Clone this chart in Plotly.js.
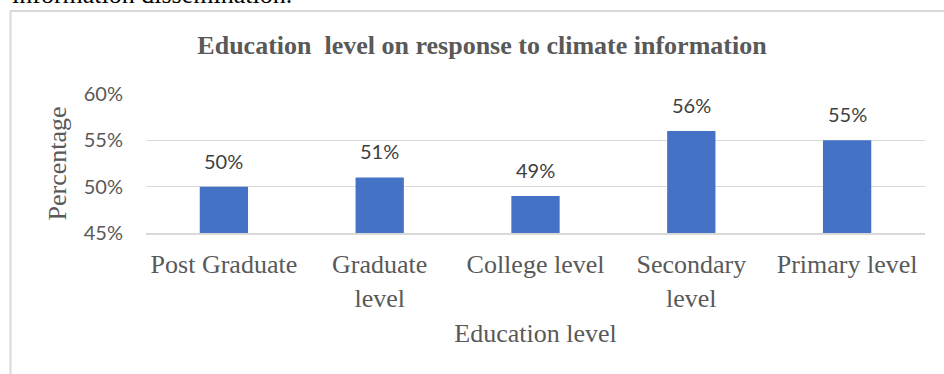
<!DOCTYPE html>
<html>
<head>
<meta charset="utf-8">
<script src="https://cdn.plot.ly/plotly-3.0.1.min.js"></script>
<style>
  html, body { margin: 0; padding: 0; background: #ffffff; }
  #chart { width: 944px; height: 374px; }
</style>
</head>
<body>
<div id="chart"></div>
<script>
// ---- data ----
const categories = ["Post Graduate", "Graduate<br>level", "College level", "Secondary<br>level", "Primary level"];
const percentages = [0.50, 0.51, 0.49, 0.56, 0.55];
const yTickValues = [0.45, 0.50, 0.55, 0.60];

const chartTitle = "Education&nbsp; level on response to climate information";
const xTitle = "Education level";
const yTitle = "Percentage";
const captionAbove = "information dissemination.";

// ---- geometry helpers (pixel -> paper) ----
const W = 944, H = 374;
const M = { l: 146, r: 19, t: 94, b: 141 };
const pw = W - M.l - M.r, ph = H - M.t - M.b;
const px = x => (x - M.l) / pw;
const py = y => (H - M.b - y) / ph;

const serif = "Liberation Serif, Times New Roman, serif";
const sans = "Lato, Calibri, Carlito, sans-serif";

const trace = {
  type: "bar",
  x: categories,
  y: percentages,
  marker: { color: "#4472C4" },
  hoverinfo: "skip",
  cliponaxis: false
};

const dataLabels = categories.map((c, i) => ({
  x: c, y: percentages[i], xref: "x", yref: "y",
  text: (percentages[i] * 100).toFixed(0) + "%",
  showarrow: false, yanchor: "bottom", yshift: 12,
  font: { family: sans, size: 20, color: "#404040" }
}));

const layout = {
  width: W, height: H,
  margin: M,
  paper_bgcolor: "#ffffff",
  plot_bgcolor: "#ffffff",
  showlegend: false,
  bargap: 0.69,
  title: {
    text: "<b>" + chartTitle + "</b>",
    font: { family: serif, size: 26, color: "#595959" },
    x: 482 / W, xanchor: "center",
    y: 1 - 45 / H, yanchor: "middle"
  },
  xaxis: {
    type: "category",
    showgrid: false,
    showline: true, linecolor: "#d9d9d9", linewidth: 1.5,
    ticks: "",
    ticklabelstandoff: 7,
    tickfont: { family: serif, size: 26, color: "#595959" },
    title: { text: xTitle, font: { family: serif, size: 26, color: "#595959" }, standoff: 12 }
  },
  yaxis: {
    range: [0.45, 0.60],
    tickvals: yTickValues,
    tickformat: ".0%",
    showgrid: true, gridcolor: "#d9d9d9", gridwidth: 1.5,
    zeroline: false, showline: false,
    ticks: "",
    ticklabelstandoff: 22,
    tickfont: { family: sans, size: 20, color: "#595959" },
    title: { text: yTitle, font: { family: serif, size: 26, color: "#595959" }, standoff: 9 }
  },
  annotations: dataLabels.concat([{
    text: captionAbove, xref: "paper", yref: "paper",
    x: px(10), y: py(11), xanchor: "left", yanchor: "bottom",
    showarrow: false,
    font: { family: serif, size: 26, color: "#000000" }
  }]),
  shapes: [
    { type: "line", xref: "paper", yref: "paper",
      x0: px(10.5), x1: px(10.5), y0: py(400), y1: py(10),
      line: { color: "#d9d9d9", width: 2 } },
    { type: "line", xref: "paper", yref: "paper",
      x0: px(10), x1: px(960), y0: py(11), y1: py(11),
      line: { color: "#d9d9d9", width: 2 } }
  ]
};

Plotly.newPlot("chart", [trace], layout, { displayModeBar: false, staticPlot: true });
</script>
</body>
</html>
